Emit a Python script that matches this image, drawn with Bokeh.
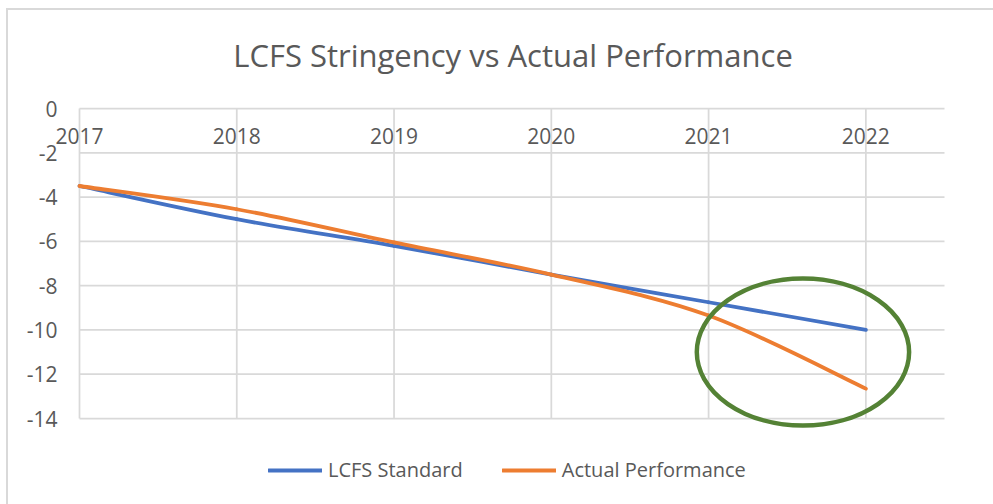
import numpy as np
from bokeh.plotting import figure
from bokeh.models import (Legend, LegendItem, FixedTicker, Range1d, LinearAxis,
                          ColumnDataSource, PrintfTickFormatter)
from bokeh.embed import file_html
from bokeh.resources import INLINE

# ---- data ----
years = [2017, 2018, 2019, 2020, 2021, 2022]
lcfs_standard = [-3.5, -5.0, -6.2, -7.5, -8.75, -10.0]
actual_performance = [-3.5, -4.55, -6.05, -7.5, -9.35, -12.65]
y_ticks = [0, -2, -4, -6, -8, -10, -12, -14]
series_names = ["LCFS Standard", "Actual Performance"]

# highlight annotation (ellipse) in data units
highlight_x = 2021.6
highlight_y = -11.0
highlight_w = 1.35
highlight_h = 6.64

# axis extents of the plot area
x_min, x_max = 2017, 2022.5
y_min, y_max = -14, 0

BLUE = "#4472C4"
ORANGE = "#ED7D31"
GREEN = "#548235"
GRID = "#D9D9D9"
TEXT = "#595959"
FONT = "Open Sans"

# ---- layout (pixels) ----
FIG_W, FIG_H = 993, 504
PA_L, PA_R, PA_T, PA_B = 79, 944, 108, 418    # plot area on page
FR_L, FR_R, FR_T, FR_B = 50, 975, 104, 496    # drawing frame on page
sx = (PA_R - PA_L) / (x_max - x_min)
sy = (PA_B - PA_T) / (y_max - y_min)
xr = Range1d(x_min - (PA_L - FR_L) / sx, x_min + (FR_R - PA_L) / sx)
yr = Range1d(y_max - (FR_B - PA_T) / sy, y_max + (PA_T - FR_T) / sy)


def smooth_segments(xs, ys):
    """Catmull-Rom style cubic Bezier segments through the data points (Excel-like smoothing)."""
    xs = np.asarray(xs, float)
    ys = np.asarray(ys, float)
    n = len(xs)
    d = dict(x0=[], y0=[], x1=[], y1=[], cx0=[], cy0=[], cx1=[], cy1=[])
    for i in range(n - 1):
        a = max(i - 1, 0)
        b = min(i + 2, n - 1)
        d["x0"].append(xs[i]); d["y0"].append(ys[i])
        d["x1"].append(xs[i + 1]); d["y1"].append(ys[i + 1])
        d["cx0"].append(xs[i] + (xs[i + 1] - xs[a]) / 6.0)
        d["cy0"].append(ys[i] + (ys[i + 1] - ys[a]) / 6.0)
        d["cx1"].append(xs[i + 1] - (xs[b] - xs[i]) / 6.0)
        d["cy1"].append(ys[i + 1] - (ys[b] - ys[i]) / 6.0)
    return ColumnDataSource(d)


p = figure(
    frame_width=FR_R - FR_L, frame_height=FR_B - FR_T,
    x_range=xr, y_range=yr,
    x_axis_location=None, y_axis_location="left",
    output_backend="svg", toolbar_location=None,
    min_border_left=FR_L, min_border_right=FIG_W - FR_R,
    min_border_top=FR_T, min_border_bottom=FIG_H - FR_B,
    background_fill_color="white", border_fill_color=None,
)
p.outline_line_color = None
p.xgrid.visible = False
p.ygrid.visible = False
# chart-area border (light grey lines on the left and top), drawn behind the canvas
p.styles = {"background": (
    "linear-gradient(#D9D9D9, #D9D9D9) 6px 8px / 2px 496px no-repeat, "
    "linear-gradient(#D9D9D9, #D9D9D9) 6px 8px / 987px 2px no-repeat, #FFFFFF")}

# title
p.title.text = "LCFS Stringency vs Actual Performance"
p.title.align = "center"
p.title.offset = -5
p.title.text_font = FONT
p.title.text_font_size = "31px"
p.title.text_font_style = "normal"
p.title.text_color = TEXT
p.title.standoff = 58

# y axis
yax = p.yaxis[0]
yax.ticker = FixedTicker(ticks=y_ticks)
yax.formatter = PrintfTickFormatter(format="%d")
yax.axis_line_color = None
yax.major_tick_line_color = None
yax.minor_tick_line_color = None
yax.major_label_text_font = FONT
yax.major_label_text_font_size = "21px"
yax.major_label_text_color = TEXT
yax.major_label_standoff = -13

# x axis crossing at y = 0 (labels below the zero line)
xax = LinearAxis(fixed_location=0, ticker=FixedTicker(ticks=years))
xax.axis_line_color = None
xax.major_tick_line_color = None
xax.minor_tick_line_color = None
xax.major_label_text_font = FONT
xax.major_label_text_font_size = "21px"
xax.major_label_text_color = TEXT
xax.major_label_standoff = 13
p.add_layout(xax, "below")

# gridlines limited to the plot area
p.segment(x0=years, y0=[y_min] * len(years), x1=years, y1=[y_max] * len(years),
          line_color=GRID, line_width=1.75)
p.segment(x0=[x_min] * len(y_ticks), y0=y_ticks, x1=[x_max] * len(y_ticks), y1=y_ticks,
          line_color=GRID, line_width=1.75)

# series (smoothed)
src_std = smooth_segments(years, lcfs_standard)
src_act = smooth_segments(years, actual_performance)
r_std = p.bezier(x0="x0", y0="y0", x1="x1", y1="y1", cx0="cx0", cy0="cy0",
                 cx1="cx1", cy1="cy1", source=src_std, line_color=BLUE,
                 line_width=3.8, line_cap="round")
r_act = p.bezier(x0="x0", y0="y0", x1="x1", y1="y1", cx0="cx0", cy0="cy0",
                 cx1="cx1", cy1="cy1", source=src_act, line_color=ORANGE,
                 line_width=3.8, line_cap="round")

# highlight ellipse
p.ellipse(x=[highlight_x], y=[highlight_y], width=[highlight_w], height=[highlight_h],
          fill_color=None, line_color=GREEN, line_width=4.5)

legend = Legend(
    items=[LegendItem(label=series_names[0], renderers=[r_std]),
           LegendItem(label=series_names[1], renderers=[r_act])],
    orientation="horizontal", location=(268 - FR_L, FR_B - 483),
    label_text_font=FONT, label_text_font_size="20px", label_text_color=TEXT,
    glyph_width=54, glyph_height=20, label_height=20, label_standoff=6, spacing=39,
    padding=0, margin=0, border_line_color=None, background_fill_alpha=0,
)
p.add_layout(legend, "center")

open("out.html", "w").write(file_html(p, INLINE))
